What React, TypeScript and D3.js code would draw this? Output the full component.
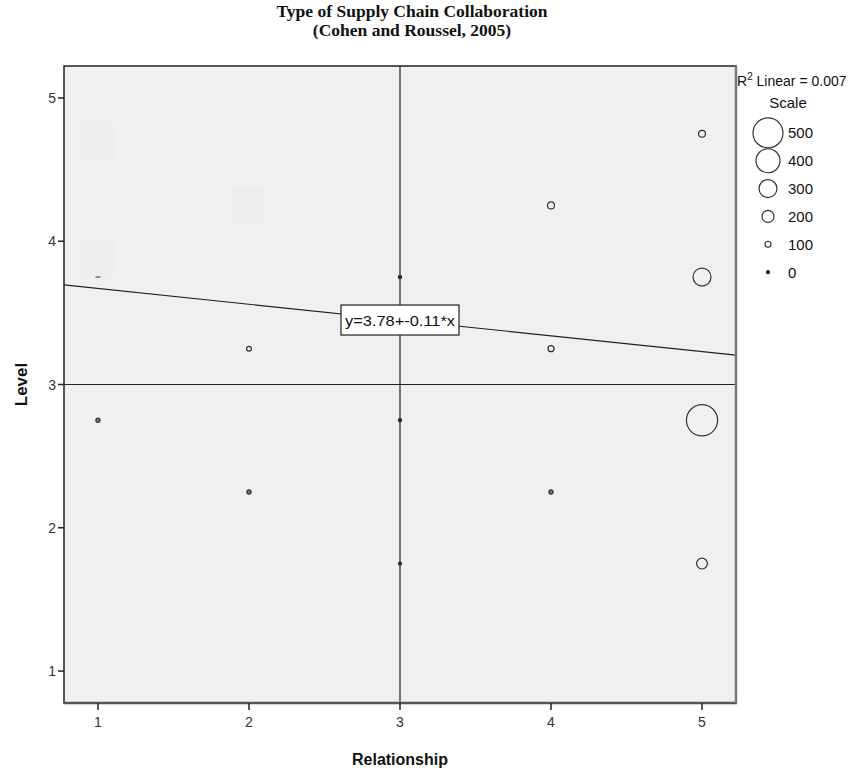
import React from "react";
import * as d3 from "d3";

const relationship = [1, 1, 2, 2, 3, 3, 3, 4, 4, 4, 5, 5, 5, 5];
const level = [2.75, 3.75, 2.25, 3.25, 1.75, 2.75, 3.75, 2.25, 3.25, 4.25, 1.75, 2.75, 3.75, 4.75];
const scaleValues = [70, 0, 70, 80, 10, 10, 10, 70, 100, 115, 180, 520, 300, 115];
const xTicks = [1, 2, 3, 4, 5];
const yTicks = [1, 2, 3, 4, 5];
const legendValues = [500, 400, 300, 200, 100, 0];
const intercept = 3.78;
const slope = -0.11;
const rSquared = "0.007";
const refX = 3;
const refY = 3;
// faint empty marker backgrounds visible in the plot
const ghostX = [1, 2, 1];
const ghostY = [4.7, 4.24, 3.88];

const W = 855;
const H = 772;
const L = 64, R = 736, T = 66, B = 703;

export default function App() {
  const x = d3.scaleLinear().domain([0.775, 5.225]).range([L, R]);
  const y = d3.scaleLinear().domain([0.777, 5.223]).range([B, T]);
  const rLin = d3.scaleLinear().domain([0, 500]).range([0, 15]);
  const r = (v: number) => Math.max(1.6, rLin(v));
  const sans = "'Liberation Sans', Arial, sans-serif";
  const serif = "'Liberation Serif', 'Times New Roman', serif";
  const line = d3.line<number>().x((d) => x(d)).y((d) => y(intercept + slope * d));
  const xd = x.domain();
  const mid = 3;
  const legendY = d3.scaleBand<number>().domain(legendValues).range([119, 286]);

  return (
    <svg width={W} height={H} style={{ display: "block", position: "absolute", left: 0, top: 0 }}>
      <rect x={0} y={0} width={W} height={H} fill="#fff" />
      <text x={412} y={17} textAnchor="middle" fontFamily={serif} fontWeight="bold" fontSize={17.5} fill="#111">
        Type of Supply Chain Collaboration
      </text>
      <text x={412} y={36} textAnchor="middle" fontFamily={serif} fontWeight="bold" fontSize={17.5} fill="#111">
        (Cohen and Roussel, 2005)
      </text>

      <rect x={L} y={T} width={R - L} height={B - T} fill="#f0f0f0" />
      <defs>
        <clipPath id="plotclip">
          <rect x={L} y={T} width={R - L} height={B - T} />
        </clipPath>
      </defs>

      <g clipPath="url(#plotclip)">
        {ghostX.map((gx, i) => (
          <rect key={"g" + i} x={x(gx) - 17} y={y(ghostY[i]) - 19} width={34} height={38} fill="#eeeeee" />
        ))}
        <line x1={x(refX)} x2={x(refX)} y1={T} y2={B} stroke="#222" strokeWidth={1.2} />
        <line x1={L} x2={R} y1={y(refY)} y2={y(refY)} stroke="#222" strokeWidth={1.2} />
        <path d={line([xd[0], xd[1]]) || ""} fill="none" stroke="#222" strokeWidth={1.2} />
        {relationship.map((rv, i) => {
          const v = scaleValues[i];
          if (v === 0) {
            return <line key={i} x1={x(rv) - 2.5} x2={x(rv) + 2.5} y1={y(level[i])} y2={y(level[i])} stroke="#333" strokeWidth={1} />;
          }
          const rad = r(v);
          return (
            <circle key={i} cx={x(rv)} cy={y(level[i])} r={rad}
              fill={rad < 2 ? "#222" : v < 80 ? "#777" : "none"}
              stroke="#333" strokeWidth={1.2} />
          );
        })}
      </g>

      <rect x={x(mid) - 59} y={y(intercept + slope * mid) - 15} width={118} height={30} fill="#fff" stroke="#222" strokeWidth={1.2} />
      <text x={x(mid)} y={y(intercept + slope * mid) + 5.5} textAnchor="middle" fontFamily={sans} fontSize={15} fill="#111" textLength={110} lengthAdjust="spacingAndGlyphs">
        y=3.78+-0.11*x
      </text>

      <rect x={L} y={T} width={R - L} height={B - T} fill="none" stroke="#222" strokeWidth={1.5} />
      <line x1={L} x2={R + 1} y1={B} y2={B} stroke="#555" strokeWidth={2.5} />
      <line x1={R} x2={R} y1={T} y2={B} stroke="#777" strokeWidth={2.5} />

      {xTicks.map((t) => (
        <g key={"x" + t}>
          <line x1={x(t)} x2={x(t)} y1={B} y2={B + 7} stroke="#222" strokeWidth={1.5} />
          <text x={x(t)} y={B + 24} textAnchor="middle" fontFamily={sans} fontSize={14} fill="#333">{t}</text>
        </g>
      ))}
      {yTicks.map((t) => (
        <g key={"y" + t}>
          <line x1={L - 6} x2={L} y1={y(t)} y2={y(t)} stroke="#222" strokeWidth={1.5} />
          <text x={L - 8} y={y(t) + 5} textAnchor="end" fontFamily={sans} fontSize={14} fill="#333">{t}</text>
        </g>
      ))}

      <text x={(L + R) / 2} y={765} textAnchor="middle" fontFamily={sans} fontWeight="bold" fontSize={16} fill="#111">Relationship</text>
      <text transform={`translate(27, ${(T + B) / 2}) rotate(-90)`} textAnchor="middle" fontFamily={sans} fontWeight="bold" fontSize={17} fill="#111">Level</text>

      <text x={737} y={86} fontFamily={sans} fontSize={14} fill="#111">
        R<tspan dy={-6} fontSize={10}>2</tspan><tspan dy={6}> Linear = {rSquared}</tspan>
      </text>
      <text x={788} y={108} textAnchor="middle" fontFamily={sans} fontSize={15} fill="#111">Scale</text>
      {legendValues.map((v) => {
        const cy = (legendY(v) || 0) + legendY.bandwidth() / 2;
        const rad = r(v);
        return (
          <g key={"lg" + v}>
            <circle cx={768} cy={cy} r={rad} fill={rad < 2 ? "#222" : "none"} stroke="#333" strokeWidth={1.2} />
            <text x={788} y={cy + 5.5} fontFamily={sans} fontSize={15} fill="#111">{v}</text>
          </g>
        );
      })}
    </svg>
  );
}
